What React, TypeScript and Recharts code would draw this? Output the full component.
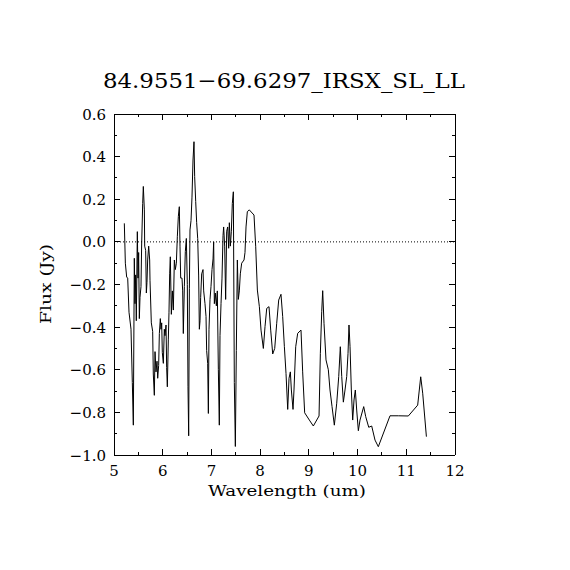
import React from 'react'
import { LineChart, XAxis, YAxis, Line, ReferenceLine } from 'recharts'

// spectrum samples (um, Jy)
const wavelength = [
  5.212, 5.233, 5.26, 5.281, 5.308, 5.349, 5.376, 5.397, 5.417, 5.431,
  5.445, 5.458, 5.479, 5.493, 5.506, 5.52, 5.534, 5.554, 5.568, 5.589,
  5.602, 5.623, 5.63, 5.65, 5.664, 5.677, 5.691, 5.712, 5.732, 5.739,
  5.766, 5.794, 5.807, 5.828, 5.842, 5.862, 5.883, 5.897, 5.917, 5.931,
  5.951, 5.965, 5.979, 5.992, 6.013, 6.033, 6.047, 6.068, 6.081, 6.095,
  6.115, 6.129, 6.143, 6.156, 6.177, 6.198, 6.218, 6.239, 6.259, 6.28,
  6.3, 6.321, 6.341, 6.355, 6.369, 6.396, 6.41, 6.423, 6.444, 6.464,
  6.485, 6.505, 6.519, 6.533, 6.547, 6.56, 6.581, 6.601, 6.622, 6.642,
  6.656, 6.677, 6.697, 6.718, 6.738, 6.752, 6.766, 6.779, 6.8, 6.827,
  6.841, 6.868, 6.889, 6.902, 6.923, 6.937, 6.95, 6.971, 6.991, 7.012,
  7.033, 7.046, 7.06, 7.08, 7.101, 7.121, 7.142, 7.162, 7.176, 7.197,
  7.217, 7.238, 7.251, 7.272, 7.292, 7.313, 7.334, 7.354, 7.368, 7.388,
  7.409, 7.429, 7.45, 7.47, 7.491, 7.511, 7.532, 7.552, 7.573, 7.593,
  7.621, 7.669, 7.689, 7.71, 7.737, 7.778, 7.874, 7.909, 7.943, 7.984,
  8.018, 8.066, 8.1, 8.135, 8.182, 8.217, 8.258, 8.299, 8.34, 8.381,
  8.428, 8.463, 8.497, 8.531, 8.566, 8.593, 8.62, 8.641, 8.675, 8.695,
  8.73, 8.771, 8.839, 8.873, 8.914, 9.01, 9.092, 9.209, 9.236, 9.264,
  9.284, 9.311, 9.352, 9.4, 9.434, 9.476, 9.523, 9.572, 9.613, 9.646,
  9.675, 9.708, 9.742, 9.777, 9.804, 9.824, 9.845, 9.872, 9.9, 9.927,
  9.954, 9.982, 10.016, 10.05, 10.126, 10.167, 10.229, 10.29, 10.358, 10.426,
  10.666, 10.837, 11.042, 11.234, 11.296, 11.337, 11.413,
]

const flux = [
  0.087, -0.1, -0.165, -0.17, -0.33, -0.41, -0.66, -0.86, -0.077, -0.29,
  -0.155, -0.37, 0.048, -0.17, -0.05, -0.36, -0.26, -0.21, -0.01, 0.18,
  0.26, 0.15, -0.02, -0.04, -0.24, -0.19, -0.085, -0.02, -0.085, -0.18,
  -0.38, -0.42, -0.62, -0.72, -0.515, -0.61, -0.56, -0.64, -0.58, -0.43,
  -0.36, -0.41, -0.38, -0.52, -0.57, -0.41, -0.44, -0.39, -0.59, -0.68,
  -0.46, -0.33, -0.15, -0.07, -0.34, -0.23, -0.32, -0.085, -0.13, -0.1,
  0.024, 0.12, 0.165, -0.02, -0.17, -0.17, -0.23, -0.43, -0.21, -0.046,
  0.016, -0.2, -0.68, -0.91, -0.22, 0.056, 0.1, 0.21, 0.384, 0.47,
  0.306, 0.19, 0.09, 0.016, -0.16, -0.41, -0.37, -0.26, -0.15, -0.13,
  -0.23, -0.29, -0.35, -0.51, -0.57, -0.805, -0.41, -0.27, -0.21, -0.13,
  -0.08, 0.0, -0.29, -0.24, -0.3, -0.23, -0.6, -0.86, -0.44, -0.29,
  -0.17, 0.03, 0.07, -0.02, -0.27, 0.05, 0.07, -0.03, 0.09, -0.02,
  0.05, 0.18, 0.235, -0.66, -0.96, -0.51, -0.085, -0.27, -0.23, -0.15,
  -0.1, -0.085, -0.05, 0.07, 0.142, 0.15, 0.126, -0.023, -0.226, -0.304,
  -0.414, -0.5, -0.398, -0.312, -0.304, -0.414, -0.526, -0.5, -0.382, -0.273,
  -0.246, -0.351, -0.49, -0.617, -0.786, -0.64, -0.61, -0.695, -0.786, -0.695,
  -0.492, -0.429, -0.414, -0.61, -0.802, -0.836, -0.864, -0.817, -0.523, -0.328,
  -0.229, -0.382, -0.554, -0.6, -0.695, -0.773, -0.86, -0.757, -0.632, -0.492,
  -0.632, -0.752, -0.695, -0.632, -0.523, -0.39, -0.49, -0.695, -0.836, -0.742,
  -0.695, -0.789, -0.886, -0.836, -0.773, -0.82, -0.87, -0.864, -0.93, -0.961,
  -0.816, -0.816, -0.817, -0.766, -0.633, -0.71, -0.914,
]

const xTicks = [5, 5.5, 6, 6.5, 7, 7.5, 8, 8.5, 9, 9.5, 10, 10.5, 11, 11.5, 12]
const yTicks = [
  -1.0, -0.9, -0.8, -0.7, -0.6, -0.5, -0.4, -0.3, -0.2, -0.1,
  0.0, 0.1, 0.2, 0.3, 0.4, 0.5, 0.6,
]

const title = '84.9551\u221269.6297_IRSX_SL_LL'
const xLabel = 'Wavelength (um)'
const yLabel = 'Flux (Jy)'

const data = wavelength.map((w, i) => ({ w, f: flux[i] }))

const FONT = '"DejaVu Serif", serif'

const isMajorX = (v: number) => Math.abs(v - Math.round(v)) < 1e-6
const isMajorY = (v: number) => Math.abs(v * 5 - Math.round(v * 5)) < 1e-6
const fmtY = (v: number) => v.toFixed(1).replace('-', '\u2212')

const BottomTick = (props: any) => {
  const { x, y, payload } = props
  const major = isMajorX(payload.value)
  return (
    <g>
      <line x1={x} x2={x} y1={y} y2={y - (major ? 6 : 3)} stroke="#000" shapeRendering="crispEdges" />
      {major && (
        <text x={x} y={y + 21} textAnchor="middle" fontFamily={FONT} fontSize={15} fill="#000">
          {payload.value}
        </text>
      )}
    </g>
  )
}

const TopTick = (props: any) => {
  const { x, y, payload } = props
  const major = isMajorX(payload.value)
  return <line x1={x} x2={x} y1={y} y2={y + (major ? 6 : 3)} stroke="#000" shapeRendering="crispEdges" />
}

const LeftTick = (props: any) => {
  const { x, y, payload } = props
  const major = isMajorY(payload.value)
  return (
    <g>
      <line x1={x} x2={x + (major ? 6 : 3)} y1={y} y2={y} stroke="#000" shapeRendering="crispEdges" />
      {major && (
        <text x={x - 8} y={y + 5.5} textAnchor="end" fontFamily={FONT} fontSize={15} fill="#000">
          {fmtY(payload.value)}
        </text>
      )}
    </g>
  )
}

const RightTick = (props: any) => {
  const { x, y, payload } = props
  const major = isMajorY(payload.value)
  return <line x1={x} x2={x - (major ? 6 : 3)} y1={y} y2={y} stroke="#000" shapeRendering="crispEdges" />
}

const axisLine = { stroke: '#000', shapeRendering: 'crispEdges' }

export default function App() {
  return (
    <div style={{ position: 'absolute', left: 0, top: 0, width: 570, height: 570, background: '#fff' }}>
      <LineChart
        width={570}
        height={570}
        data={data}
        margin={{ top: 113, right: 114, bottom: 114, left: 113 }}
      >
        <XAxis
          xAxisId="b"
          dataKey="w"
          type="number"
          domain={[5, 12]}
          ticks={xTicks}
          interval={0}
          height={1}
          tickSize={0}
          tickMargin={0}
          tickLine={false}
          tick={<BottomTick />}
          axisLine={axisLine}
          allowDataOverflow
        />
        <XAxis
          xAxisId="t"
          orientation="top"
          dataKey="w"
          type="number"
          domain={[5, 12]}
          ticks={xTicks}
          interval={0}
          height={1}
          tickSize={0}
          tickMargin={0}
          tickLine={false}
          tick={<TopTick />}
          axisLine={axisLine}
          allowDataOverflow
        />
        <YAxis
          yAxisId="l"
          type="number"
          domain={[-1, 0.6]}
          ticks={yTicks}
          interval={0}
          width={1}
          tickSize={0}
          tickMargin={0}
          tickLine={false}
          tick={<LeftTick />}
          axisLine={axisLine}
          allowDataOverflow
        />
        <YAxis
          yAxisId="r"
          orientation="right"
          type="number"
          domain={[-1, 0.6]}
          ticks={yTicks}
          interval={0}
          width={1}
          tickSize={0}
          tickMargin={0}
          tickLine={false}
          tick={<RightTick />}
          axisLine={axisLine}
          allowDataOverflow
        />
        <ReferenceLine xAxisId="b" yAxisId="l" y={0} stroke="#000" strokeDasharray="1 2" />
        <Line
          xAxisId="b"
          yAxisId="l"
          type="linear"
          dataKey="f"
          stroke="#000"
          strokeWidth={1}
          dot={false}
          isAnimationActive={false}
        />
      </LineChart>
      <svg
        width={570}
        height={570}
        style={{ position: 'absolute', left: 0, top: 0, pointerEvents: 'none' }}
      >
        <text x={284} y={88} textAnchor="middle" fontFamily={FONT} fontSize={21} textLength={362} lengthAdjust="spacingAndGlyphs" fill="#000">
          {title}
        </text>
        <text x={287} y={496} textAnchor="middle" fontFamily={FONT} fontSize={15} textLength={158} lengthAdjust="spacingAndGlyphs" fill="#000">
          {xLabel}
        </text>
        <text
          x={51}
          y={284}
          transform="rotate(-90 51 284)"
          textAnchor="middle"
          fontFamily={FONT}
          fontSize={15}
          textLength={80}
          lengthAdjust="spacingAndGlyphs"
          fill="#000"
        >
          {yLabel}
        </text>
      </svg>
    </div>
  )
}
